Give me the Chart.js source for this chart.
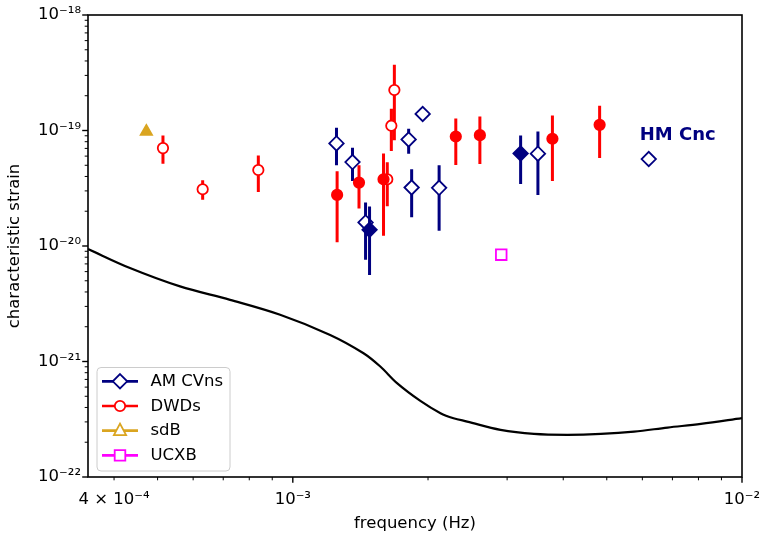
<!DOCTYPE html>
<html>
<head>
<meta charset="utf-8">
<script src="https://cdn.jsdelivr.net/npm/chart.js@4.4.0/dist/chart.umd.min.js"></script>
<style>
  html, body { margin: 0; padding: 0; background: #fff; }
  #wrap { width: 760px; height: 536px; }
</style>
</head>
<body>
<div id="wrap"><canvas id="myChart" width="760" height="536"></canvas></div>
<script>
// AM CVns (open diamonds), lo/hi are the error bar ends (null = no bar)
const amcvnOpenF  = [1.251e-3, 1.358e-3, 1.452e-3, 1.811e-3, 1.946e-3, 1.839e-3, 2.117e-3, 3.513e-3, 6.20e-3];
const amcvnOpenH  = [7.73e-20, 5.33e-20, 1.60e-20, 8.36e-20, 1.39e-19, 3.21e-20, 3.19e-20, 6.30e-20, 5.66e-20];
const amcvnOpenLo = [4.99e-20, 3.66e-20, 7.62e-21, 6.30e-20, null, 1.77e-20, 1.355e-20, 2.77e-20, null];
const amcvnOpenHi = [1.055e-19, 7.10e-20, 2.38e-20, 1.034e-19, null, 4.61e-20, 4.99e-20, 9.80e-20, null];

// AM CVns (filled diamonds)
const amcvnFillF  = [1.482e-3, 3.215e-3];
const amcvnFillH  = [1.38e-20, 6.33e-20];
const amcvnFillLo = [5.62e-21, 3.44e-20];
const amcvnFillHi = [2.20e-20, 9.06e-20];

// DWDs (open circles)
const dwdOpenF  = [5.14e-4, 6.30e-4, 8.38e-4, 1.683e-3, 1.657e-3, 1.623e-3];
const dwdOpenH  = [7.04e-20, 3.10e-20, 4.55e-20, 2.24e-19, 1.10e-19, 3.78e-20];
const dwdOpenLo = [5.16e-20, 2.51e-20, 2.94e-20, 8.25e-20, 6.63e-20, 2.21e-20];
const dwdOpenHi = [9.06e-20, 3.71e-20, 6.09e-20, 3.71e-19, 1.54e-19, 5.30e-20];

// DWDs (filled circles)
const dwdFillF  = [1.255e-3, 1.404e-3, 1.592e-3, 2.306e-3, 2.609e-3, 3.784e-3, 4.82e-3];
const dwdFillH  = [2.77e-20, 3.54e-20, 3.78e-20, 8.87e-20, 9.11e-20, 8.48e-20, 1.12e-19];
const dwdFillLo = [1.076e-20, 2.11e-20, 1.227e-20, 5.02e-20, 5.12e-20, 3.66e-20, 5.77e-20];
const dwdFillHi = [4.43e-20, 4.99e-20, 6.33e-20, 1.27e-19, 1.32e-19, 1.35e-19, 1.64e-19];

const sdbF = [4.72e-4];
const sdbH = [9.8e-20];
const ucxbF = [2.911e-3];
const ucxbH = [8.41e-21];

// sensitivity curve
const sensF = [3.5e-4, 4.34e-4, 5.61e-4, 7.25e-4, 9.37e-4, 1.211e-3, 1.437e-3, 1.566e-3, 1.706e-3, 1.923e-3,
               2.132e-3, 2.279e-3, 2.445e-3, 2.90e-3, 3.442e-3, 4.087e-3, 4.85e-3, 5.75e-3, 6.83e-3, 8.10e-3, 1.0e-2];
const sensH = [9.42e-21, 6.45e-21, 4.47e-21, 3.42e-21, 2.54e-21, 1.70e-21, 1.18e-21, 9.05e-22, 6.50e-22, 4.56e-22,
               3.57e-22, 3.23e-22, 3.02e-22, 2.56e-22, 2.36e-22, 2.32e-22, 2.36e-22, 2.47e-22, 2.68e-22, 2.88e-22, 3.23e-22];

const seriesNames = ['AM CVns', 'DWDs', 'sdB', 'UCXB'];
const seriesColors = ['#000080', '#ff0000', '#daa520', '#ff00ff'];
const seriesMarkers = ['rectRot', 'circle', 'triangle', 'rect'];

const xTicks = [4e-4, 5e-4, 6e-4, 7e-4, 8e-4, 9e-4, 1e-3, 2e-3, 3e-3, 4e-3, 5e-3, 6e-3, 7e-3, 8e-3, 9e-3, 1e-2];
const xLabelValues = [4e-4, 1e-3, 1e-2];
const xLabelTexts = ['4 \u00d7 10\u207b\u2074', '10\u207b\u00b3', '10\u207b\u00b2'];
const yTicks = [];
[-22, -21, -20, -19].forEach(function(e) {
    for (var m = 1; m < 10; m++) yTicks.push(m * Math.pow(10, e));
});
yTicks.push(1e-18);
const yLabelValues = [1e-22, 1e-21, 1e-20, 1e-19, 1e-18];
const yLabelTexts = ['10\u207b\u00b2\u00b2', '10\u207b\u00b2\u00b9', '10\u207b\u00b2\u2070', '10\u207b\u00b9\u2079', '10\u207b\u00b9\u2078'];

const notes = [{ text: 'HM Cnc', f: 5.92e-3, h: 9.0e-20 }];

var FONT = 'DejaVu Sans';

function pts(xs, ys) {
    return xs.map(function(x, i) { return { x: x, y: ys[i] }; });
}
function bars(xs, lo, hi) {
    var out = [];
    xs.forEach(function(x, i) {
        if (lo[i] == null) return;
        out.push({ x: x, y: lo[i] }, { x: x, y: hi[i] }, { x: x, y: null });
    });
    return out;
}
function findLabel(v, values, texts) {
    for (var i = 0; i < values.length; i++) {
        if (Math.abs(v / values[i] - 1) < 1e-6) return texts[i];
    }
    return '';
}
function isDecade(v) {
    var l = Math.log10(v);
    return Math.abs(l - Math.round(l)) < 1e-6;
}

function markerSet(label, data, style, color, fill, radius, order) {
    return {
        label: label, data: data, showLine: false, order: order,
        pointStyle: style, pointRadius: radius, pointHoverRadius: radius,
        pointBorderColor: color, pointBackgroundColor: fill, pointBorderWidth: 1.8
    };
}
function barSet(data, color, order) {
    return {
        data: data, showLine: true, spanGaps: false, order: order,
        borderColor: color, borderWidth: 3, pointRadius: 0, borderCapStyle: 'butt'
    };
}

// own tick marks, box and annotations, matplotlib style
var frame = {
    id: 'frame',
    afterDatasetsDraw: function(chart) {
        var ctx = chart.ctx, a = chart.chartArea;
        var xs = chart.scales.x, ys = chart.scales.y;
        ctx.save();
        ctx.strokeStyle = '#000';
        xs.ticks.forEach(function(t) {
            var p = xs.getPixelForValue(t.value), major = isDecade(t.value);
            ctx.lineWidth = major ? 1.4 : 1.0;
            ctx.beginPath();
            ctx.moveTo(p, a.bottom);
            ctx.lineTo(p, a.bottom + (major ? 5.8 : 3.3));
            ctx.stroke();
        });
        ys.ticks.forEach(function(t) {
            var p = ys.getPixelForValue(t.value), major = isDecade(t.value);
            ctx.lineWidth = major ? 1.4 : 1.0;
            ctx.beginPath();
            ctx.moveTo(a.left, p);
            ctx.lineTo(a.left - (major ? 5.8 : 3.3), p);
            ctx.stroke();
        });
        ctx.lineWidth = 1.6;
        ctx.strokeRect(a.left, a.top, a.right - a.left, a.bottom - a.top);

        ctx.fillStyle = '#000080';
        ctx.font = 'bold 18px "' + FONT + '"';
        ctx.textAlign = 'left';
        ctx.textBaseline = 'middle';
        notes.forEach(function(n) {
            ctx.fillText(n.text, xs.getPixelForValue(n.f), ys.getPixelForValue(n.h));
        });
        ctx.restore();
    },
    afterDraw: function(chart) {
        var ctx = chart.ctx;
        var bx = 97, by = 367.5, bw = 133, bh = 103.5, r = 4;
        ctx.save();
        ctx.beginPath();
        ctx.moveTo(bx + r, by);
        ctx.arcTo(bx + bw, by, bx + bw, by + bh, r);
        ctx.arcTo(bx + bw, by + bh, bx, by + bh, r);
        ctx.arcTo(bx, by + bh, bx, by, r);
        ctx.arcTo(bx, by, bx + bw, by, r);
        ctx.closePath();
        ctx.fillStyle = 'rgba(255,255,255,0.8)';
        ctx.fill();
        ctx.strokeStyle = '#cccccc';
        ctx.lineWidth = 1;
        ctx.stroke();

        seriesNames.forEach(function(name, i) {
            var y = 381.3 + i * 24.7, cx = 120;
            var col = seriesColors[i];
            ctx.strokeStyle = col;
            ctx.lineWidth = 2.7;
            ctx.beginPath();
            ctx.moveTo(102, y);
            ctx.lineTo(138, y);
            ctx.stroke();
            ctx.beginPath();
            var m = seriesMarkers[i];
            if (m === 'rectRot') {
                ctx.moveTo(cx, y - 7.2); ctx.lineTo(cx + 7.2, y); ctx.lineTo(cx, y + 7.2); ctx.lineTo(cx - 7.2, y);
                ctx.closePath();
            } else if (m === 'circle') {
                ctx.arc(cx, y, 5.2, 0, Math.PI * 2);
            } else if (m === 'triangle') {
                ctx.moveTo(cx, y - 7); ctx.lineTo(cx + 6.1, y + 4.5); ctx.lineTo(cx - 6.1, y + 4.5);
                ctx.closePath();
            } else {
                ctx.rect(cx - 5.3, y - 5.3, 10.6, 10.6);
            }
            ctx.fillStyle = '#fff';
            ctx.fill();
            ctx.lineWidth = 1.8;
            ctx.stroke();

            ctx.fillStyle = '#000';
            ctx.font = '16.5px "' + FONT + '"';
            ctx.textAlign = 'left';
            ctx.textBaseline = 'middle';
            ctx.fillText(name, 150.5, y + 0.5);
        });
        ctx.restore();
    }
};

document.addEventListener("DOMContentLoaded", function() {
    Chart.defaults.font.family = FONT;
    Chart.defaults.font.size = 16.5;
    Chart.defaults.color = '#000';

    var canvas = document.getElementById("myChart");
    new Chart(canvas, {
        type: 'line',
        data: {
            datasets: [
                markerSet('AM CVns filled', pts(amcvnFillF, amcvnFillH), 'rectRot', '#000080', '#000080', 7.2, 0),
                barSet(bars(amcvnFillF, amcvnFillLo, amcvnFillHi), '#000080', 1),
                markerSet('DWDs filled', pts(dwdFillF, dwdFillH), 'circle', '#ff0000', '#ff0000', 5.2, 2),
                barSet(bars(dwdFillF, dwdFillLo, dwdFillHi), '#ff0000', 3),
                markerSet('AM CVns', pts(amcvnOpenF, amcvnOpenH), 'rectRot', '#000080', '#ffffff', 7.2, 4),
                barSet(bars(amcvnOpenF, amcvnOpenLo, amcvnOpenHi), '#000080', 5),
                markerSet('DWDs', pts(dwdOpenF, dwdOpenH), 'circle', '#ff0000', '#ffffff', 5.2, 6),
                barSet(bars(dwdOpenF, dwdOpenLo, dwdOpenHi), '#ff0000', 7),
                markerSet('sdB', pts(sdbF, sdbH), 'triangle', '#daa520', '#daa520', 6.5, 4),
                markerSet('UCXB', pts(ucxbF, ucxbH), 'rect', '#ff00ff', '#ffffff', 7.5, 4),
                {
                    label: 'sensitivity', data: pts(sensF, sensH), order: 9,
                    borderColor: '#000', borderWidth: 2.2, pointRadius: 0,
                    tension: 0.35
                }
            ]
        },
        options: {
            responsive: false,
            animation: false,
            events: [],
            layout: { padding: { top: 15, right: 18, left: 0, bottom: 0 } },
            scales: {
                x: {
                    type: 'logarithmic',
                    min: 3.5e-4,
                    max: 1e-2,
                    afterBuildTicks: function(s) { s.ticks = xTicks.map(function(v) { return { value: v }; }); },
                    afterFit: function(s) { s.height = 59; s.paddingLeft = 0; s.paddingRight = 0; },
                    grid: { display: false, drawTicks: false },
                    border: { display: false },
                    ticks: {
                        autoSkip: false, maxRotation: 0, minRotation: 0, padding: 13, color: '#000',
                        callback: function(v) { return findLabel(v, xLabelValues, xLabelTexts); }
                    },
                    title: { display: true, text: 'frequency (Hz)', color: '#000', padding: { top: 2, bottom: 2 } }
                },
                y: {
                    type: 'logarithmic',
                    min: 1e-22,
                    max: 1e-18,
                    afterBuildTicks: function(s) { s.ticks = yTicks.map(function(v) { return { value: v }; }); },
                    afterFit: function(s) { s.width = 88; s.paddingTop = 0; s.paddingBottom = 0; },
                    grid: { display: false, drawTicks: false },
                    border: { display: false },
                    ticks: {
                        autoSkip: false, padding: 7, color: '#000',
                        callback: function(v) { return findLabel(v, yLabelValues, yLabelTexts); }
                    },
                    title: { display: true, text: 'characteristic strain', color: '#000', padding: { top: 5, bottom: 0 } }
                }
            },
            plugins: {
                legend: { display: false },
                tooltip: { enabled: false }
            }
        },
        plugins: [frame]
    });
});
</script>
</body>
</html>
